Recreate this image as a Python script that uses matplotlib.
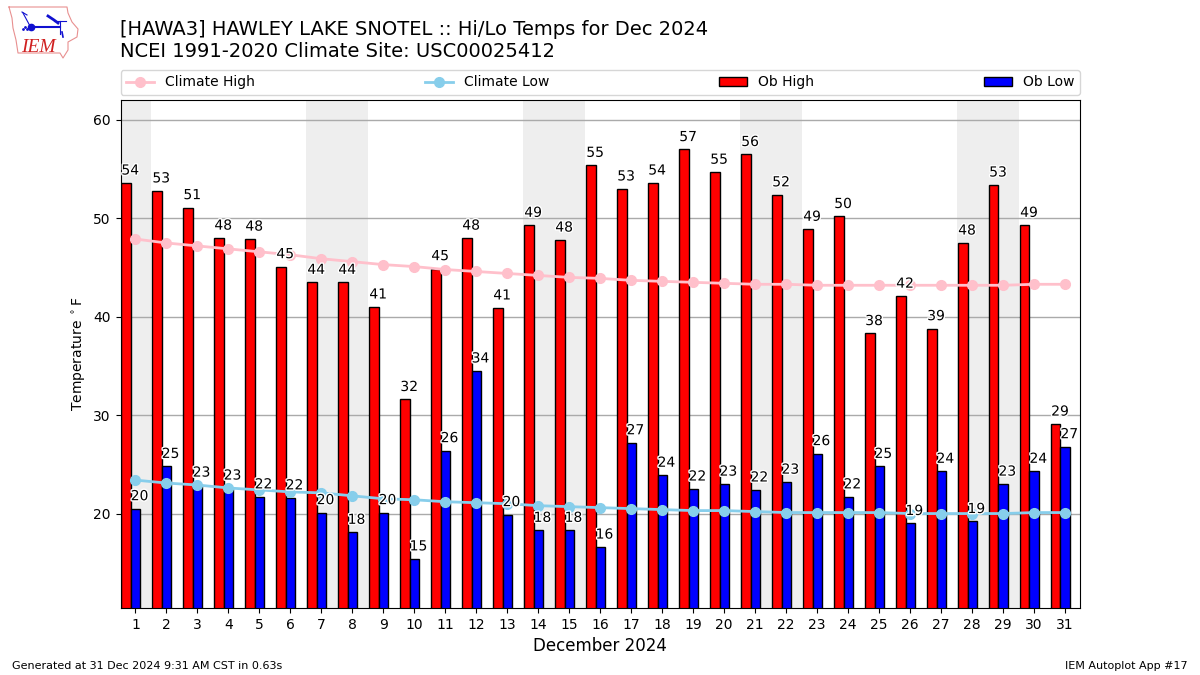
import matplotlib
matplotlib.use("Agg")
import matplotlib.pyplot as plt
import matplotlib.patheffects as pe

days = list(range(1, 32))
weekend_start = [0.5, 6.5, 13.5, 20.5, 27.5]
weekend_end = [1.5, 8.5, 15.5, 22.5, 29.5]

ob_high = [53.6, 52.8, 51.1, 48.0, 47.9, 45.1, 43.5, 43.5, 41.0, 31.6, 44.9,
           48.0, 40.9, 49.3, 47.8, 55.4, 53.0, 53.6, 57.0, 54.7, 56.5, 52.4,
           48.9, 50.2, 38.3, 42.1, 38.8, 47.5, 53.4, 49.3, 29.1]
ob_low = [20.5, 24.8, 22.9, 22.6, 21.7, 21.6, 20.1, 18.1, 20.1, 15.4, 26.4,
          34.5, 19.9, 18.3, 18.3, 16.6, 27.2, 23.9, 22.5, 23.0, 22.4, 23.2,
          26.1, 21.7, 24.8, 19.0, 24.3, 19.2, 23.0, 24.3, 26.8]
climate_high = [47.9, 47.5, 47.2, 46.9, 46.6, 46.3, 45.9, 45.6, 45.3, 45.1,
                44.8, 44.6, 44.4, 44.2, 44.0, 43.9, 43.7, 43.6, 43.5, 43.4,
                43.3, 43.3, 43.2, 43.2, 43.2, 43.2, 43.2, 43.2, 43.2, 43.3, 43.3]
climate_low = [23.4, 23.1, 22.9, 22.6, 22.4, 22.2, 22.1, 21.8, 21.5, 21.4,
               21.2, 21.1, 21.0, 20.8, 20.7, 20.6, 20.5, 20.4, 20.3, 20.3,
               20.2, 20.1, 20.1, 20.1, 20.1, 20.0, 20.0, 20.0, 20.0, 20.1, 20.1]
high_labels = [54, 53, 51, 48, 48, 45, 44, 44, 41, 32, 45, 48, 41, 49, 48, 55,
               53, 54, 57, 55, 56, 52, 49, 50, 38, 42, 39, 48, 53, 49, 29]
low_labels = [20, 25, 23, 23, 22, 22, 20, 18, 20, 15, 26, 34, 20, 18, 18, 16,
              27, 24, 22, 23, 22, 23, 26, 22, 25, 19, 24, 19, 23, 24, 27]

W = 1200
H = 675
fig = plt.figure(figsize=(12, 6.75), dpi=100)
ax = fig.add_axes([120.5 / W, 1 - 608 / H, 959.5 / W, 508 / H])

for x0, x1 in zip(weekend_start, weekend_end):
    ax.axvspan(x0, x1, color="#eeeeee", lw=0, zorder=0)

ax.set_axisbelow(True)
ax.grid(axis="y", color="#aaaaaa", lw=1)

high_x = [d - 0.3 for d in days]
ax.bar(high_x, ob_high, width=0.3, color="red", edgecolor="k", label="Ob High", zorder=2)
ax.bar(days, ob_low, width=0.3, color="blue", edgecolor="k", label="Ob Low", zorder=2)
ax.plot(days, climate_high, color="pink", marker="o", ms=7, lw=2, label="Climate High", zorder=3)
ax.plot(days, climate_low, color="skyblue", marker="o", ms=7, lw=2, label="Climate Low", zorder=3)

halo = [pe.withStroke(linewidth=2, foreground="white")]
for d, v, lab in zip(days, ob_high, high_labels):
    ax.text(d - 0.45, v + 0.55, str(lab), ha="left", va="bottom", fontsize=10,
            path_effects=halo, zorder=4)
for d, v, lab in zip(days, ob_low, low_labels):
    ax.text(d - 0.15, v + 0.55, str(lab), ha="left", va="bottom", fontsize=10,
            path_effects=halo, zorder=4)

ax.set_xlim(0.52, 31.48)
ax.set_ylim(10.4, 62.03)
ax.set_xticks(days)
ax.set_yticks([20, 30, 40, 50, 60])
ax.set_ylabel(r"Temperature $^\circ$F")
ax.set_xlabel("December 2024", fontsize=12)

handles, labels = ax.get_legend_handles_labels()
order = [labels.index(n) for n in ["Climate High", "Climate Low", "Ob High", "Ob Low"]]
ax.legend([handles[i] for i in order], [labels[i] for i in order], ncol=4,
          mode="expand", loc="lower left", bbox_to_anchor=(0, 1.0098, 1, 0.05),
          borderaxespad=0, fontsize=10)

fig.text(120 / W, 1 - 61 / H, "[HAWA3] HAWLEY LAKE SNOTEL :: Hi/Lo Temps for Dec 2024\n"
         "NCEI 1991-2020 Climate Site: USC00025412", fontsize=14, ha="left", va="bottom")
fig.text(12 / W, 1 - 671 / H, "Generated at 31 Dec 2024 9:31 AM CST in 0.63s", fontsize=8,
         ha="left", va="bottom")
fig.text(1188 / W, 1 - 671 / H, "IEM Autoplot App #17", fontsize=8, ha="right", va="bottom")

# logo, drawn in pixels of its own little axes
logo = fig.add_axes([0, 1 - 65 / H, 90 / W, 65 / H])
logo.set_xlim(0, 90)
logo.set_ylim(65, 0)
logo.axis("off")
outline_x = [9, 67, 68, 72, 78, 77, 68, 68, 63, 60, 18, 16, 13, 12, 9]
outline_y = [7, 7, 13, 22, 29, 37, 42, 50, 58, 53, 53, 40, 28, 18, 7]
logo.plot(outline_x, outline_y, color="#e89090", lw=0.8)
logo.plot([31, 60], [27, 27], color="#1010d0", lw=1.5)
logo.plot([31], [27], "o", color="#1010d0", ms=4.5)
logo.plot([30, 23], [26, 13], color="#1010d0", lw=0.8)
logo.plot([22, 27], [12, 15], color="#1010d0", lw=0.8)
logo.plot([48, 54, 58], [16, 20, 23], color="#1010d0", lw=2)
logo.plot([54, 66], [21, 21], color="#1010d0", lw=0.8)
logo.plot([60, 60], [21, 34], color="#1010d0", lw=0.8)
logo.plot([62, 63], [32, 37], color="#1010d0", lw=1.2)
logo.plot([23, 25, 27], [29, 27, 29], ".", color="#1010d0", ms=2)
logo.text(21, 52, "IEM", color="#d02020", fontsize=14, style="italic",
          family="Liberation Serif", ha="left", va="baseline")

fig.savefig("out.png", dpi=100)
